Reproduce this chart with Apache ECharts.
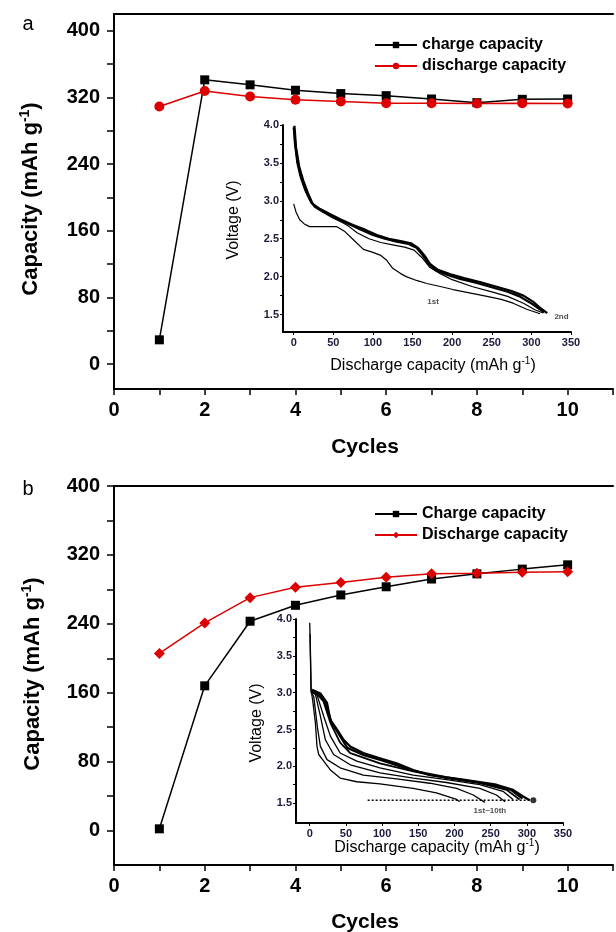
<!DOCTYPE html>
<html>
<head>
<meta charset="utf-8">
<script src="https://cdn.jsdelivr.net/npm/echarts@6/dist/echarts.min.js"></script>
<style>html,body{margin:0;padding:0;background:#fff}#c{width:616px;height:932px}</style>
</head>
<body>
<div id="c"></div>
<script>
// ---- data ----
const cycles = [1, 2, 3, 4, 5, 6, 7, 8, 9, 10];
const chargeA = [29, 341, 335, 328.5, 324.5, 322, 318, 313.6, 317.6, 318];
const dischargeA = [309, 327.7, 321, 317, 315, 313, 313, 312.5, 313, 312.5];
const chargeB = [2, 168, 243, 261.5, 273.5, 283, 292, 298, 303.5, 308.5];
const dischargeB = [205.6, 241, 270.4, 282.4, 288, 294, 298, 298.7, 300, 300.5];

const mainYTicks = [0, 40, 80, 120, 160, 200, 240, 280, 320, 360, 400];
const mainYLabels = [0, 80, 160, 240, 320, 400];
const insetYTicks = [1.5, 1.75, 2.0, 2.25, 2.5, 2.75, 3.0, 3.25, 3.5, 3.75, 4.0];
const insetYLabels = [1.5, 2.0, 2.5, 3.0, 3.5, 4.0];
const insetXLabels = [0, 50, 100, 150, 200, 250, 300, 350];

// inset (a): voltage profiles [capacity, voltage]
const insetA1 = [[0,2.96],[3,2.85],[7.6,2.75],[14,2.69],[20,2.66],[35,2.66],[54,2.66],[64,2.6],[75,2.49],[88,2.36],[100,2.32],[110,2.28],[117,2.22],[125,2.11],[135,2.04],[142,2.0],[155,1.95],[168,1.91],[185,1.87],[201,1.83],[225,1.78],[244,1.74],[262,1.7],[277,1.65],[294,1.57],[311,1.51]];
const insetA2 = [[0,3.98],[1,3.75],[4,3.5],[8,3.32],[14,3.14],[20,3.01],[26,2.92],[35,2.86],[50,2.77],[62,2.71],[70,2.66],[80,2.58],[95,2.5],[110,2.45],[125,2.42],[140,2.39],[152,2.35],[162,2.25],[172,2.12],[185,2.04],[200,1.96],[225,1.87],[250,1.8],[270,1.74],[290,1.65],[305,1.56],[315,1.52]];
const insetA3 = [[0,3.97],[2,3.75],[5,3.52],[10,3.3],[16,3.12],[22,2.98],[28,2.92],[40,2.85],[55,2.76],[70,2.69],[85,2.62],[100,2.55],[115,2.5],[130,2.46],[145,2.43],[155,2.38],[163,2.28],[170,2.17],[180,2.08],[195,2.02],[210,1.97],[230,1.92],[250,1.86],[270,1.8],[285,1.74],[298,1.66],[308,1.59],[316,1.53]];
const insetA4 = [[1,3.99],[3,3.7],[7,3.45],[12,3.27],[18,3.1],[24,2.96],[32,2.9],[45,2.83],[60,2.75],[75,2.68],[90,2.62],[105,2.55],[120,2.5],[135,2.47],[148,2.44],[157,2.38],[165,2.28],[172,2.17],[182,2.09],[198,2.03],[215,1.98],[235,1.93],[255,1.87],[275,1.81],[290,1.75],[302,1.67],[312,1.58],[320,1.52]];
const insetALabels = [[176, 1.67, '1st'], [338, 1.47, '2nd']];

// inset (b): voltage profiles, cycles 1st-10th
const insetB1 = [[0,3.95],[1.8,3.04],[4,2.9],[7.8,2.59],[10,2.27],[12.4,2.16],[19.3,2.07],[28.5,1.95],[42,1.84],[65,1.79],[97,1.76],[143,1.7],[175,1.64],[203,1.55],[207,1.52]];
const insetB2 = [[0.5,3.8],[2,3.0],[5.5,2.95],[11,2.5],[14.7,2.27],[23.9,2.09],[42,1.98],[74,1.88],[120,1.83],[166,1.77],[203,1.7],[226,1.61],[242,1.51]];
const insetB3 = [[2,3.0],[7.8,2.98],[14.7,2.68],[21.6,2.36],[33,2.16],[56,2.02],[97,1.91],[143,1.84],[189,1.78],[235,1.7],[258,1.61],[270,1.52]];
const insetB4 = [[3,3.01],[10,2.97],[19.3,2.68],[28.5,2.41],[42,2.18],[65,2.07],[97,1.98],[143,1.88],[189,1.82],[235,1.75],[267,1.66],[281,1.55]];
const insetB5 = [[3,3.02],[12,2.96],[19,2.88],[28.5,2.59],[42,2.32],[56,2.18],[97,2.04],[143,1.93],[189,1.84],[235,1.77],[272,1.68],[290,1.55]];
const insetB7 = [[3,3.03],[13,2.98],[21,2.87],[30,2.6],[40,2.44],[52,2.25],[75,2.15],[100,2.08],[143,1.94],[189,1.85],[240,1.77],[278,1.68],[294,1.56]];
const insetB10 = [[3.2,3.04],[14.7,2.99],[23.9,2.86],[28.5,2.63],[37.6,2.5],[46.8,2.36],[56,2.27],[74,2.18],[97,2.11],[120,2.04],[143,1.95],[166,1.88],[212,1.82],[258,1.75],[281,1.68],[295,1.59],[304,1.54]];
const insetBCutoff = [[80, 1.54], [306, 1.54]];
const insetBEnd = [[309, 1.54]];
const insetBLabels = [[249, 1.40, '1st~10th']];

// ---- helpers ----
const FF = '"Liberation Sans", Arial, sans-serif';
function mainX(gi) {
  return {
    gridIndex: gi, type: 'value', min: 0, max: 11, interval: 1,
    axisLine: { onZero: false, lineStyle: { color: '#000', width: 2 } },
    axisTick: { length: 6, lineStyle: { color: '#000', width: 1.5 } },
    axisLabel: { margin: 11, color: '#000', fontSize: 20, fontWeight: 'bold', fontFamily: FF,
      formatter: v => (v % 2 === 0 && v <= 10) ? String(v) : '' },
    splitLine: { show: false }
  };
}
function topBorder(gi) {
  return {
    gridIndex: gi, type: 'value', position: 'top', min: 0, max: 11,
    axisLine: { show: true, onZero: false, lineStyle: { color: '#000', width: 2 } },
    axisTick: { show: false }, axisLabel: { show: false }, splitLine: { show: false }
  };
}
function mainY(gi, mn, mx) {
  return {
    gridIndex: gi, type: 'value', min: mn, max: mx,
    axisLine: { show: true, onZero: false, lineStyle: { color: '#000', width: 2 } },
    axisTick: { show: true, length: 7, customValues: mainYTicks, lineStyle: { color: '#000', width: 1.5 } },
    axisLabel: { margin: 14, color: '#000', fontSize: 20, fontWeight: 'bold', fontFamily: FF, customValues: mainYLabels },
    splitLine: { show: false }
  };
}
function insetX(gi, mn) {
  return {
    gridIndex: gi, type: 'value', min: mn, max: 350,
    axisLine: { onZero: false, lineStyle: { color: '#000', width: 2 } },
    axisTick: { length: 3, customValues: insetXLabels, lineStyle: { color: '#000', width: 1 } },
    axisLabel: { margin: 5, color: '#1a1a3a', fontSize: 11, fontWeight: 'bold', fontFamily: FF, customValues: insetXLabels },
    splitLine: { show: false }
  };
}
function insetY(gi, mn) {
  return {
    gridIndex: gi, type: 'value', min: mn, max: 4.0,
    axisLine: { show: true, onZero: false, lineStyle: { color: '#000', width: 2 } },
    axisTick: { show: true, length: 3, customValues: insetYTicks, lineStyle: { color: '#000', width: 1 } },
    axisLabel: { margin: 4, color: '#1a1a3a', fontSize: 11, fontWeight: 'bold', fontFamily: FF, customValues: insetYLabels,
      formatter: v => v.toFixed(1) },
    splitLine: { show: false }
  };
}
function curve(name, data, xi, w) {
  return { name, type: 'line', xAxisIndex: xi, yAxisIndex: xi, data, showSymbol: false, symbol: 'none',
    lineStyle: { color: '#000', width: w }, silent: true, animation: false, z: 3 };
}
function toPairs(ys) { return cycles.map((c, i) => [c, ys[i]]); }

const RED = '#dd0000';
const series = [
  { name: 'charge capacity', type: 'line', xAxisIndex: 0, yAxisIndex: 0, data: toPairs(chargeA),
    symbol: 'rect', symbolSize: 9, itemStyle: { color: '#000' }, lineStyle: { color: '#000', width: 1.5 }, z: 5 },
  { name: 'discharge capacity', type: 'line', xAxisIndex: 0, yAxisIndex: 0, data: toPairs(dischargeA),
    symbol: 'circle', symbolSize: 10, itemStyle: { color: RED }, lineStyle: { color: RED, width: 1.5 }, z: 5 },
  { name: 'Charge capacity', type: 'line', xAxisIndex: 2, yAxisIndex: 2, data: toPairs(chargeB),
    symbol: 'rect', symbolSize: 9, itemStyle: { color: '#000' }, lineStyle: { color: '#000', width: 1.5 }, z: 5 },
  { name: 'Discharge capacity', type: 'line', xAxisIndex: 2, yAxisIndex: 2, data: toPairs(dischargeB),
    symbol: 'diamond', symbolSize: 11, itemStyle: { color: RED }, lineStyle: { color: RED, width: 1.5 }, z: 5 },

  curve('a1', insetA1, 1, 1.2),
  curve('a2', insetA2, 1, 1.2),
  curve('a3', insetA3, 1, 2.2),
  curve('a4', insetA4, 1, 2.2),
  { type: 'scatter', xAxisIndex: 1, yAxisIndex: 1, data: insetALabels, symbolSize: 0, silent: true,
    label: { show: true, position: 'inside', formatter: p => p.data[2], fontSize: 8, fontWeight: 'bold', color: '#222', fontFamily: FF } },

  curve('b1', insetB1, 3, 1.3),
  curve('b2', insetB2, 3, 1.3),
  curve('b3', insetB3, 3, 1.3),
  curve('b4', insetB4, 3, 1.3),
  curve('b5', insetB5, 3, 1.8),
  curve('b7', insetB7, 3, 2.2),
  curve('b10', insetB10, 3, 2.2),
  { type: 'line', xAxisIndex: 3, yAxisIndex: 3, data: insetBCutoff, symbol: 'none', silent: true,
    lineStyle: { color: '#000', width: 1.5, type: [2, 2] } },
  { type: 'scatter', xAxisIndex: 3, yAxisIndex: 3, data: insetBEnd, symbol: 'circle', symbolSize: 6,
    itemStyle: { color: '#000' }, silent: true },
  { type: 'scatter', xAxisIndex: 3, yAxisIndex: 3, data: insetBLabels, symbolSize: 0, silent: true,
    label: { show: true, position: 'inside', formatter: p => p.data[2], fontSize: 8, fontWeight: 'bold', color: '#222', fontFamily: FF } }
];

function legend(names, top) {
  return {
    data: names, left: 374, top, orient: 'vertical', itemWidth: 42, itemHeight: 8, itemGap: 5, padding: 0,
    selectedMode: false,
    textStyle: { fontSize: 16, fontWeight: 'bold', color: '#000', fontFamily: FF }
  };
}

function supText(x, y, main, size, weight, rotate) {
  return {
    type: 'text', x, y, rotation: rotate ? Math.PI / 2 : 0, silent: true,
    style: {
      text: '{m|' + main + '}{s|-1}{m|)}', align: 'center', verticalAlign: 'middle',
      rich: {
        m: { fontSize: size, fontWeight: weight, fontFamily: FF, fill: '#000', lineHeight: size + 4 },
        s: { fontSize: Math.round(size * 0.62), fontWeight: weight, fontFamily: FF, fill: '#000', verticalAlign: 'top', lineHeight: size + 4 }
      }
    }
  };
}
function plainText(x, y, t, size, weight, rotate) {
  return {
    type: 'text', x, y, rotation: rotate ? Math.PI / 2 : 0, silent: true,
    style: { text: t, fontSize: size, fontWeight: weight, fontFamily: FF, fill: '#000', align: 'center', verticalAlign: 'middle' }
  };
}

const chart = echarts.init(document.getElementById('c'), null, { renderer: 'canvas' });
chart.setOption({
  animation: false,
  backgroundColor: '#fff',
  grid: [
    { left: 114, top: 14, width: 504, height: 375, show: false },
    { left: 283, top: 125, width: 288, height: 207, show: false },
    { left: 114, top: 486, width: 504, height: 379, show: false },
    { left: 296, top: 619, width: 267, height: 204, show: false }
  ],
  xAxis: [mainX(0), insetX(1, -13.5), mainX(2), insetX(3, -19), topBorder(0), topBorder(2)],
  yAxis: [mainY(0, -30, 420), insetY(1, 1.27), mainY(2, -40, 400), insetY(3, 1.23)],
  legend: [legend(['charge capacity', 'discharge capacity'], 37), legend(['Charge capacity', 'Discharge capacity'], 506)],
  series,
  graphic: [
    plainText(28, 24, 'a', 20, 'normal', false),
    plainText(28, 489, 'b', 20, 'normal', false),
    supText(31, 199, 'Capacity (mAh g', 22, 'bold', true),
    supText(33, 674, 'Capacity (mAh g', 22, 'bold', true),
    plainText(365, 447, 'Cycles', 21, 'bold', false),
    plainText(365, 922, 'Cycles', 21, 'bold', false),
    plainText(234, 220, 'Voltage (V)', 16, 'normal', true),
    supText(433, 366, 'Discharge capacity (mAh g', 16, 'normal', false),
    plainText(257, 723, 'Voltage (V)', 16, 'normal', true),
    supText(437, 848, 'Discharge capacity (mAh g', 16, 'normal', false)
  ]
});
</script>
</body>
</html>
